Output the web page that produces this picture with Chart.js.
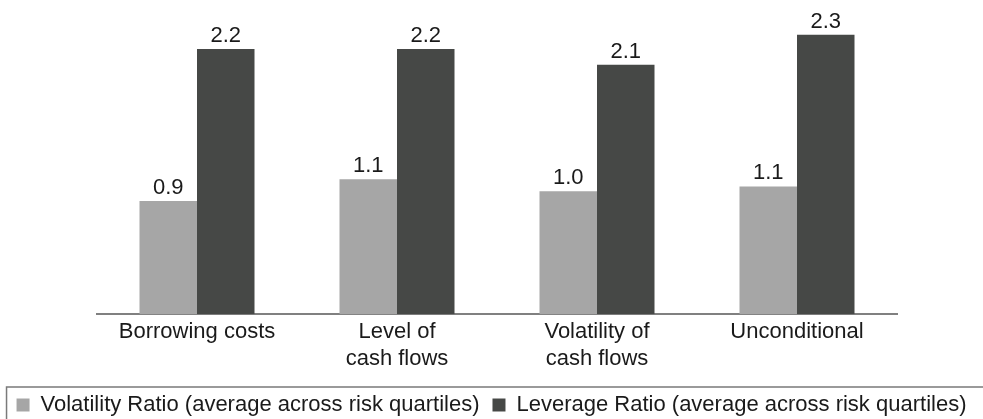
<!DOCTYPE html>
<html>
<head>
<meta charset="utf-8">
<script src="https://cdn.jsdelivr.net/npm/chart.js@4/dist/chart.umd.min.js"></script>
<style>
  html, body { margin: 0; padding: 0; background: #fff; }
  #wrap { width: 983px; height: 419px; }
</style>
</head>
<body>
<div id="wrap"><canvas id="chart"></canvas></div>
<script>
const categories = ['Borrowing costs', ['Level of', 'cash flows'], ['Volatility of', 'cash flows'], 'Unconditional'];
const volatilityRatio = [0.94, 1.12, 1.02, 1.06];
const leverageRatio = [2.20, 2.20, 2.07, 2.32];
const seriesNames = ['Volatility Ratio (average across risk quartiles)', 'Leverage Ratio (average across risk quartiles)'];

const FONT = 'Liberation Sans, Arial, sans-serif';

// value labels above each bar
const barLabels = {
    id: 'barLabels',
    afterDatasetsDraw(chart) {
        const ctx = chart.ctx;
        ctx.save();
        ctx.font = '22px ' + FONT;
        ctx.fillStyle = '#1a1a1a';
        ctx.textAlign = 'center';
        ctx.textBaseline = 'alphabetic';
        chart.data.datasets.forEach((ds, i) => {
            chart.getDatasetMeta(i).data.forEach((bar, j) => {
                ctx.fillText(ds.data[j].toFixed(1), bar.x, bar.y - 7);
            });
        });
        ctx.restore();
    }
};

// box around the legend
const legendFrame = {
    id: 'legendFrame',
    afterDraw(chart) {
        const boxes = chart.legend.legendHitBoxes;
        if (!boxes || !boxes.length) return;
        const ctx = chart.ctx;
        ctx.save();
        ctx.strokeStyle = '#7a7a7a';
        ctx.lineWidth = 1.5;
        ctx.strokeRect(boxes[0].left - 10, boxes[0].top - 7, chart.width + 20, 60);
        ctx.restore();
    }
};

const hiddenAxis = (w, pos) => ({
    position: pos,
    display: true,
    min: 0,
    max: 2.45,
    grid: { display: false, drawTicks: false },
    border: { display: false },
    ticks: { display: false },
    afterFit: s => { s.width = w; }
});

new Chart(document.getElementById('chart'), {
    type: 'bar',
    data: {
        labels: categories,
        datasets: [
            { label: seriesNames[0], data: volatilityRatio, backgroundColor: '#a6a6a6', borderWidth: 0, yAxisID: 'y' },
            { label: seriesNames[1], data: leverageRatio, backgroundColor: '#464846', borderWidth: 0, yAxisID: 'y' }
        ]
    },
    options: {
        responsive: true,
        maintainAspectRatio: false,
        animation: false,
        layout: { padding: { top: 19, bottom: -7, left: 0, right: 0 } },
        datasets: { bar: { barPercentage: 1, categoryPercentage: 0.575 } },
        scales: {
            x: {
                grid: { display: false, drawTicks: false },
                border: { display: true, color: '#808080', width: 2 },
                ticks: { color: '#1a1a1a', padding: 5, font: { family: FONT, size: 22 }, maxRotation: 0, autoSkip: false },
                afterFit: s => { s.height += 4; }
            },
            y: hiddenAxis(97, 'left'),
            yr: hiddenAxis(86, 'right')
        },
        plugins: {
            legend: {
                position: 'bottom',
                labels: {
                    boxWidth: 13,
                    boxHeight: 13,
                    padding: 13,
                    color: '#1a1a1a',
                    font: { family: FONT, size: 22 }
                }
            },
            tooltip: { enabled: false }
        }
    },
    plugins: [barLabels, legendFrame]
});
</script>
</body>
</html>
